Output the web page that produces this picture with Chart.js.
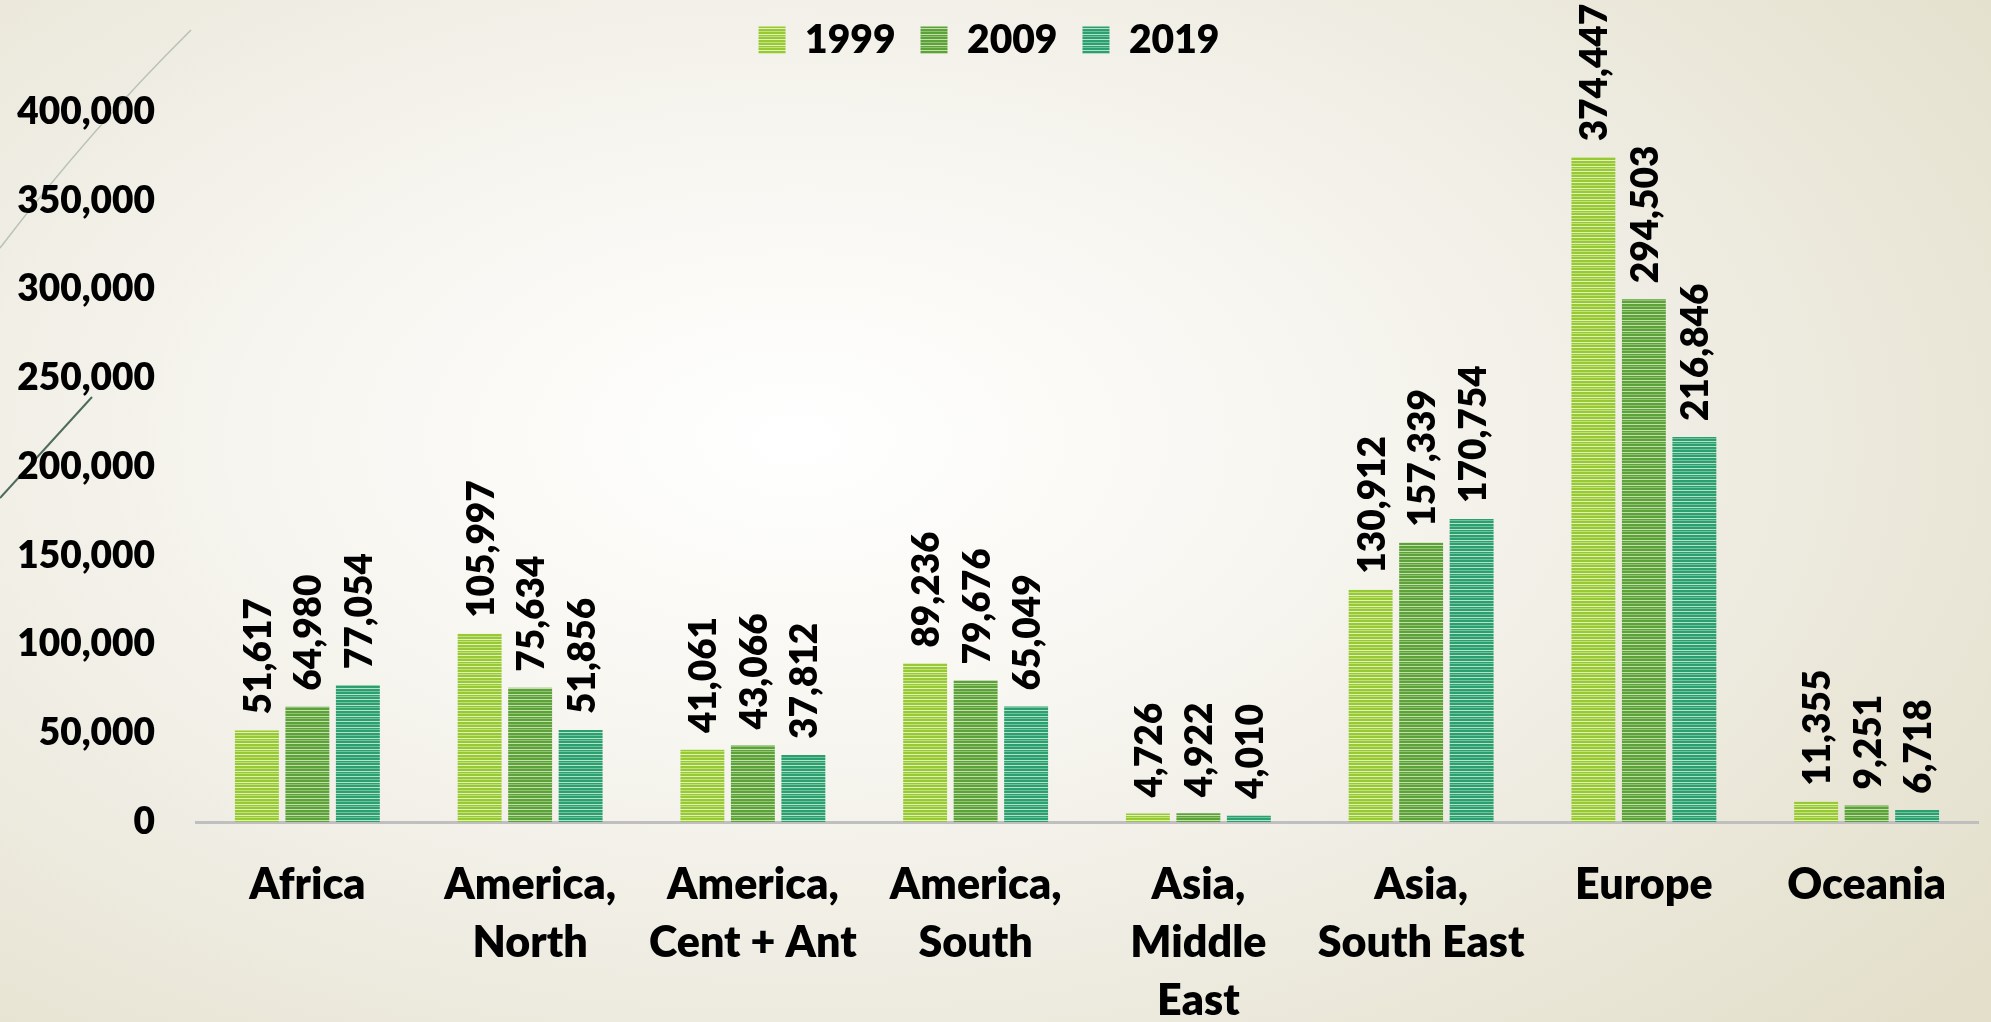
<!DOCTYPE html>
<html>
<head>
<meta charset="utf-8">
<script src="https://cdn.jsdelivr.net/npm/chart.js@4.4.1/dist/chart.umd.min.js"></script>
<style>
	html, body {
		margin: 0;
		padding: 0;
		overflow: hidden;
	}
	#wrap {
		width: 1991px;
		height: 1022px;
		background: radial-gradient(ellipse 75% 85% at 40% 43%, #ffffff 0%, #f8f7f2 30%, #efede3 60%, #e3dfcb 100%);
	}
</style>
</head>
<body>
<div id="wrap"><canvas id="region-chart" width="1991" height="1022"></canvas></div>
<script>
const categories = [
	"Africa",
	["America,", "North"],
	["America,", "Cent + Ant"],
	["America,", "South"],
	["Asia,", "Middle", "East"],
	["Asia,", "South East"],
	"Europe",
	"Oceania",
];
const values1999 = [51617, 105997, 41061, 89236, 4726, 130912, 374447, 11355];
const values2009 = [64980, 75634, 43066, 79676, 4922, 157339, 294503, 9251];
const values2019 = [77054, 51856, 37812, 65049, 4010, 170754, 216846, 6718];
const yMax = 400000;
const yStep = 50000;

const FONT = "Lato";
const WEIGHT = "800";

function stripes(base, light, soft) {
	const tile = document.createElement("canvas");
	tile.width = 8;
	tile.height = 11;
	const g = tile.getContext("2d");
	g.fillStyle = base;
	g.fillRect(0, 0, 8, 11);
	g.fillStyle = light;
	g.fillRect(0, 1, 8, 1);
	g.fillRect(0, 6, 8, 1);
	g.fillStyle = soft;
	g.fillRect(0, 3, 8, 1);
	g.fillRect(0, 9, 8, 1);
	return g.createPattern(tile, "repeat");
}

const fill1999 = stripes("#97c935", "#e2f0bb", "#c3e07e");
const fill2009 = stripes("#5da238", "#c4dfae", "#8fc275");
const fill2019 = stripes("#2c9f6e", "#b6e0cb", "#6fc29e");

const backdrop = {
	id: "backdrop",
	beforeDraw(chart) {
		const { ctx } = chart;
		ctx.save();
		ctx.lineWidth = 1.5;
		ctx.strokeStyle = "rgba(150, 165, 150, 0.6)";
		ctx.beginPath();
		ctx.moveTo(191, 30);
		ctx.quadraticCurveTo(90, 130, 0, 248);
		ctx.stroke();
		ctx.lineWidth = 2;
		ctx.strokeStyle = "#4d6b5a";
		ctx.beginPath();
		ctx.moveTo(92, 397);
		ctx.lineTo(0, 498);
		ctx.stroke();
		ctx.restore();
	},
};

// extra room under the legend so the plot starts where the reference does
const legendRoom = {
	id: "legendRoom",
	beforeInit(chart) {
		const fit = chart.legend.fit;
		chart.legend.fit = function () {
			fit.call(this);
			this.height += 42.5;
		};
	},
};

const barValueLabels = {
	id: "barValueLabels",
	afterDatasetsDraw(chart) {
		const { ctx } = chart;
		ctx.save();
		ctx.font = WEIGHT + " 37px " + FONT;
		ctx.fillStyle = "#000000";
		ctx.textAlign = "left";
		ctx.textBaseline = "middle";
		chart.data.datasets.forEach((dataset, i) => {
			chart.getDatasetMeta(i).data.forEach((bar, j) => {
				ctx.save();
				ctx.translate(bar.x + 2, bar.y - 16);
				ctx.rotate(-Math.PI / 2);
				ctx.fillText(dataset.data[j].toLocaleString("en-US"), 0, 0);
				ctx.restore();
			});
		});
		ctx.restore();
	},
};

const barStyle = {
	barPercentage: 0.87,
	categoryPercentage: 0.68,
	borderWidth: 0,
};

new Chart(document.getElementById("region-chart"), {
	type: "bar",
	data: {
		labels: categories,
		datasets: [
			{ label: "1999", data: values1999, backgroundColor: fill1999, ...barStyle },
			{ label: "2009", data: values2009, backgroundColor: fill2009, ...barStyle },
			{ label: "2019", data: values2019, backgroundColor: fill2019, ...barStyle },
		],
	},
	options: {
		responsive: false,
		animation: false,
		devicePixelRatio: 1,
		layout: { padding: { top: -4.5, right: 13, bottom: 0, left: 0 } },
		plugins: {
			legend: {
				position: "top",
				labels: {
					color: "#000000",
					font: { family: FONT, size: 39, weight: WEIGHT },
					boxWidth: 27,
					boxHeight: 27,
					padding: 25,
				},
			},
			tooltip: { enabled: false },
		},
		scales: {
			x: {
				grid: { display: false, drawTicks: false },
				border: { display: true, color: "#bfbfbf", width: 3 },
				ticks: {
					color: "#000000",
					font: { family: FONT, size: 43, weight: WEIGHT, lineHeight: 58 / 43 },
					padding: 34,
					maxRotation: 0,
					autoSkip: false,
				},
				afterFit(scale) {
					scale.height = 200;
				},
			},
			y: {
				min: 0,
				max: yMax,
				grid: { display: false, drawTicks: false },
				border: { display: false },
				ticks: {
					stepSize: yStep,
					color: "#000000",
					font: { family: FONT, size: 37, weight: WEIGHT },
					padding: 41,
					callback: (value) => value.toLocaleString("en-US"),
				},
				afterFit(scale) {
					scale.width = 196;
				},
			},
		},
	},
	plugins: [backdrop, legendRoom, barValueLabels],
});
</script>
</body>
</html>
